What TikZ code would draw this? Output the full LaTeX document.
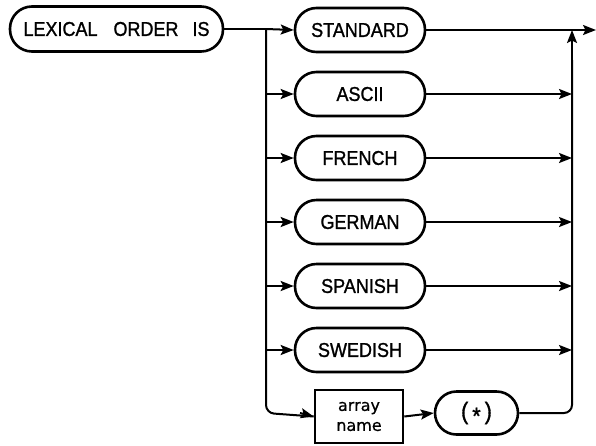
\documentclass[tikz,border=0pt]{standalone}
\usepackage{fontspec}
\setmainfont{Liberation Sans}
\newfontfamily\kwfont{Liberation Sans}[FakeStretch=0.9,FakeBold=1.2]
\newfontfamily\smfont{DejaVu Sans}[FakeBold=0.6]
\usetikzlibrary{arrows.meta}
\begin{document}
\begin{tikzpicture}[x=1pt,y=-1pt,
  kw/.style={draw,line width=2.6pt,rounded corners=21.5pt,minimum width=130pt,minimum height=44pt,inner sep=0pt,font=\kwfont\fontsize{20}{20}\selectfont},
  conn/.style={line width=2pt,-{Stealth[length=13pt,width=10pt,inset=2.5pt]}},
  plain/.style={line width=2pt}]
\useasboundingbox (0,0) rectangle (596,445);
\node[kw,minimum width=213pt,minimum height=45pt,rounded corners=22pt] (lex) at (116.5,29) {LEXICAL\hspace{16pt}ORDER\hspace{14pt}IS};
\node[kw] (std) at (360,30) {STANDARD};
\node[kw] (asc) at (360,94) {ASCII};
\node[kw] (fre) at (360,158) {FRENCH};
\node[kw] (ger) at (360,222) {GERMAN};
\node[kw] (spa) at (360,286) {SPANISH};
\node[kw] (swe) at (360,350) {SWEDISH};
\node[draw,line width=2.6pt,minimum width=88pt,minimum height=53pt,inner sep=0pt,align=center,font=\smfont\fontsize{16}{20}\selectfont] (arr) at (359,416.5) {array\\name};
\node[kw,minimum width=83pt,minimum height=43pt] (star) at (476.5,413) {\fontsize{24}{24}\selectfont(\hspace{4pt}\raisebox{-5pt}{*}\hspace{4pt})};
\coordinate (split) at (266,29);
\coordinate (join) at (572,30);
\coordinate (out) at (596,30);
\draw[plain] (lex.east) -- (split);
\draw[conn] (split) -- (std.west);
\draw[conn] (std.east) -- (out);
\draw[plain,rounded corners=8pt] (split) -- (266,413) -- (arr.west);
\draw[conn] (300,413) -- (arr.west);
\foreach \n/\y in {asc/94,fre/158,ger/222,spa/286,swe/350}{
  \draw[conn] (266,\y) -- (\n.west);
  \draw[conn] (\n.east) -- (572,\y);
}
\draw[conn] (arr.east) -- (star.west);
\draw[plain,rounded corners=8pt] (star.east) -- (572,413) -- (572,60);
\draw[conn] (572,60) -- (join);
\end{tikzpicture}
\end{document}
